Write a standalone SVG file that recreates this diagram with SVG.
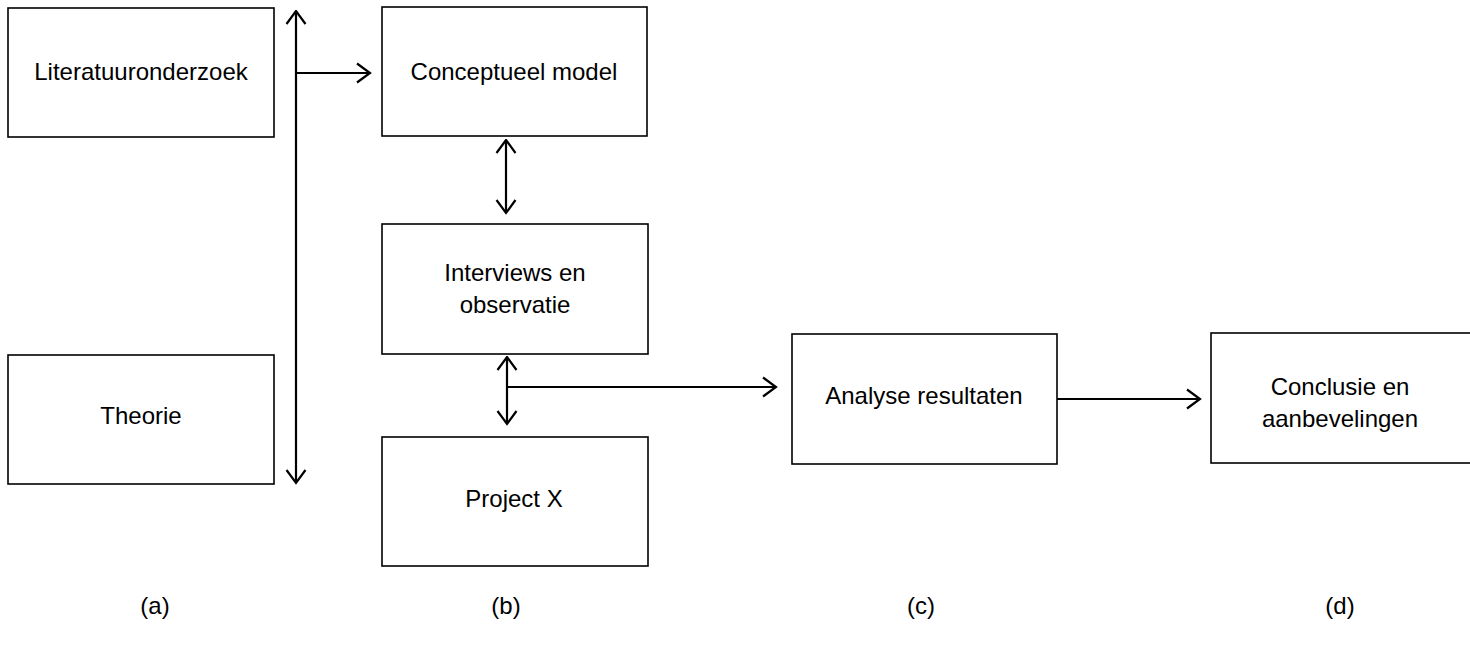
<svg xmlns="http://www.w3.org/2000/svg" width="1470" height="647" viewBox="0 0 1470 647">
<style>
.box{fill:#fff;stroke:#000;stroke-width:1.6}
.lbl{font-family:"Liberation Sans",Arial,sans-serif;font-size:24px;fill:#000;text-anchor:middle}
.con{fill:none;stroke:#000;stroke-width:2.2}
</style>
<defs>
<marker id="ah" viewBox="0 0 16 22" refX="14.5" refY="11" markerWidth="16" markerHeight="22" markerUnits="userSpaceOnUse" orient="auto-start-reverse">
<path d="M1.5,1.5 L14.5,11 L1.5,20.5" fill="none" stroke="#000" stroke-width="2.2"/>
</marker>
</defs>
<rect width="1470" height="647" fill="#fff"/>
<g id="connectors">
<line class="con" x1="296" y1="11" x2="296" y2="483" marker-start="url(#ah)" marker-end="url(#ah)"/>
<line class="con" x1="296" y1="73" x2="370" y2="73" marker-end="url(#ah)"/>
<line class="con" x1="506" y1="140" x2="506" y2="213" marker-start="url(#ah)" marker-end="url(#ah)"/>
<line class="con" x1="507" y1="357" x2="507" y2="424" marker-start="url(#ah)" marker-end="url(#ah)"/>
<line class="con" x1="507" y1="387" x2="776" y2="387" marker-end="url(#ah)"/>
<line class="con" x1="1057" y1="399" x2="1200" y2="399" marker-end="url(#ah)"/>
</g>
<g id="n-literatuur"><rect class="box" x="8" y="8" width="266" height="129"/><text class="lbl" x="141" y="80">Literatuuronderzoek</text></g>
<g id="n-theorie"><rect class="box" x="8" y="355" width="266" height="129"/><text class="lbl" x="141" y="424">Theorie</text></g>
<g id="n-conceptueel"><rect class="box" x="382" y="7" width="265" height="129"/><text class="lbl" x="514" y="80">Conceptueel model</text></g>
<g id="n-interviews"><rect class="box" x="382" y="224" width="266" height="130"/><text class="lbl" x="515" y="281">Interviews en</text><text class="lbl" x="515" y="313">observatie</text></g>
<g id="n-analyse"><rect class="box" x="792" y="334" width="265" height="130"/><text class="lbl" x="924" y="404">Analyse resultaten</text></g>
<g id="n-project"><rect class="box" x="382" y="437" width="266" height="129"/><text class="lbl" x="514" y="507">Project X</text></g>
<g id="n-conclusie"><rect class="box" x="1211" y="333" width="270" height="130"/><text class="lbl" x="1340" y="395">Conclusie en</text><text class="lbl" x="1340" y="427">aanbevelingen</text></g>
<g id="labels">
<text class="lbl" x="155" y="614">(a)</text>
<text class="lbl" x="506" y="614">(b)</text>
<text class="lbl" x="921" y="614">(c)</text>
<text class="lbl" x="1340" y="614">(d)</text>
</g>
</svg>
